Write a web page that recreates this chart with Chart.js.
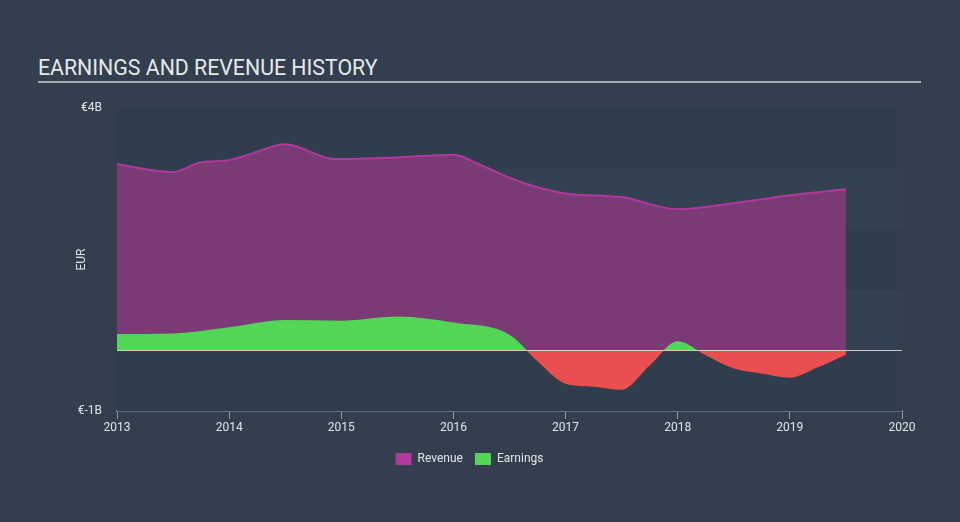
<!DOCTYPE html>
<html>
<head>
<meta charset="utf-8">
<script src="https://cdn.jsdelivr.net/npm/chart.js@4.4.1/dist/chart.umd.min.js"></script>
<style>
  html, body { margin: 0; padding: 0; background: #333f4f; }
  #wrap { position: relative; width: 960px; height: 522px; }
  #title {
    position: absolute; left: 38px; top: 56px; width: 883px;
    font-family: Roboto, sans-serif; font-size: 21.3px; color: #e6e8ea;
    border-bottom: 2px solid #a7adb4; padding-bottom: 1px; line-height: 24px;
  }
  canvas { position: absolute; left: 0; top: 0; }
</style>
</head>
<body>
<div id="wrap">
  <div id="title">EARNINGS AND REVENUE HISTORY</div>
  <canvas id="chart" width="960" height="522"></canvas>
</div>
<script>
// values in billions EUR
const revenueYears = [2013, 2013.5, 2013.74, 2014, 2014.22, 2014.5, 2014.94, 2015.43, 2016, 2016.24, 2016.6, 2017, 2017.5, 2018, 2018.5, 2019, 2019.5];
const revenue = [3.07, 2.94, 3.10, 3.14, 3.26, 3.40, 3.16, 3.18, 3.23, 3.06, 2.78, 2.59, 2.53, 2.33, 2.43, 2.56, 2.66];

const earningsYears = [2013, 2013.5, 2014, 2014.5, 2015, 2015.5, 2016, 2016.5, 2016.75, 2017, 2017.25, 2017.5, 2017.75, 2018, 2018.25, 2018.5, 2018.75, 2019, 2019.25, 2019.5];
const earnings = [0.27, 0.28, 0.38, 0.50, 0.49, 0.56, 0.46, 0.26, -0.18, -0.55, -0.60, -0.65, -0.25, 0.15, -0.08, -0.30, -0.38, -0.45, -0.28, -0.07];

const yearTicks = [2013, 2014, 2015, 2016, 2017, 2018, 2019, 2020];

const toPoints = (xs, ys) => xs.map((x, i) => ({x: x, y: ys[i]}));

// alternating horizontal bands behind the plot
const bands = {
    id: "bands",
    beforeDatasetsDraw(chart) {
        const {ctx, chartArea, scales} = chart;
        const y = scales.y;
        for (let v = 4; v > -1; v--) {
            const top = y.getPixelForValue(v);
            const bottom = y.getPixelForValue(v - 1);
            ctx.fillStyle = (v === 1 || v === 3) ? "#334150" : "#2f3d4c";
            ctx.fillRect(chartArea.left, top, chartArea.right - chartArea.left, bottom - top);
        }
    }
};

const zeroLine = {
    id: "zeroLine",
    afterDatasetsDraw(chart) {
        const {ctx, chartArea, scales} = chart;
        const y0 = Math.round(scales.y.getPixelForValue(0)) + 0.5;
        ctx.save();
        ctx.strokeStyle = "rgba(235, 225, 205, 0.85)";
        ctx.lineWidth = 1.2;
        ctx.beginPath();
        ctx.moveTo(chartArea.left, y0);
        ctx.lineTo(chartArea.right, y0);
        ctx.stroke();
        ctx.restore();
    }
};

new Chart(document.getElementById("chart").getContext("2d"), {
    type: "line",
    data: {
        datasets: [
            {
                label: "Revenue",
                data: toPoints(revenueYears, revenue),
                borderColor: "#b0389f",
                backgroundColor: "#b0389f",
                borderWidth: 2,
                pointRadius: 0,
                cubicInterpolationMode: "monotone",
                fill: {target: "origin", above: "#7a3a75", below: "#7a3a75"},
                order: 1,
            },
            {
                label: "Earnings",
                data: toPoints(earningsYears, earnings),
                borderColor: "rgba(0,0,0,0)",
                backgroundColor: "#51d655",
                borderWidth: 0,
                pointRadius: 0,
                cubicInterpolationMode: "monotone",
                fill: {target: "origin", above: "#51d655", below: "#ea4f50"},
                order: 0,
            },
        ],
    },
    options: {
        responsive: false,
        animation: false,
        layout: {padding: {left: 37, top: 108, right: 58, bottom: 47}},
        scales: {
            x: {
                type: "linear",
                min: 2013,
                max: 2020,
                afterBuildTicks: (scale) => { scale.ticks = yearTicks.map(v => ({value: v})); },
                afterFit: (scale) => { scale.height = 30; },
                border: {display: true, color: "#8a98a8", width: 1.5},
                grid: {display: true, drawOnChartArea: false, drawTicks: true, tickLength: 8, color: "#8a98a8"},
                ticks: {
                    color: "#e2e4e6",
                    font: {family: "Roboto", size: 12},
                    padding: 2,
                    maxRotation: 0,
                    callback: (v) => String(v),
                },
            },
            y: {
                min: -1,
                max: 4,
                afterFit: (scale) => { scale.width = 80; },
                border: {display: false},
                grid: {display: false},
                ticks: {
                    stepSize: 1,
                    color: "#e2e4e6",
                    font: {family: "Roboto", size: 12},
                    padding: 7,
                    callback: (v) => v === 4 ? "€4B" : (v === -1 ? "€-1B" : ""),
                },
                title: {
                    display: true,
                    text: "EUR",
                    color: "#e2e4e6",
                    font: {family: "Roboto", size: 12},
                    padding: {top: 38, bottom: 0},
                },
            },
        },
        plugins: {
            legend: {
                position: "bottom",
                labels: {
                    color: "#e2e4e6",
                    font: {family: "Roboto", size: 12},
                    boxWidth: 16,
                    boxHeight: 12,
                    padding: 12,
                    sort: (a, b) => a.datasetIndex - b.datasetIndex,
                    generateLabels: (chart) => chart.data.datasets.map((d, i) => ({
                        text: d.label,
                        fillStyle: i === 0 ? "#b0389f" : "#51d655",
                        strokeStyle: "rgba(0,0,0,0)",
                        lineWidth: 0,
                        fontColor: "#e2e4e6",
                        datasetIndex: i,
                        hidden: false,
                    })),
                },
            },
            tooltip: {enabled: false},
        },
    },
    plugins: [bands, zeroLine],
});
</script>
</body>
</html>
